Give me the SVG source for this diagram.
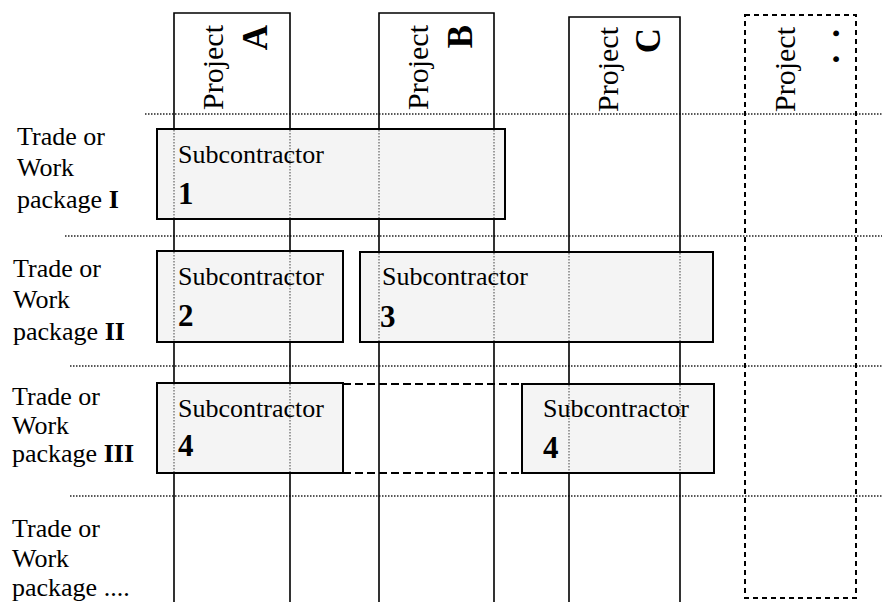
<svg xmlns="http://www.w3.org/2000/svg" width="882" height="602" viewBox="0 0 882 602">
<style>
text{font-family:"Liberation Serif","Times New Roman",serif;fill:#000}
.lbl{font-size:26px}
.hdr{font-size:30px}
.big{font-size:35px;font-weight:bold}
.num{font-size:31px;font-weight:bold}
.col{fill:none;stroke:#000;stroke-width:1.6}
.colD{fill:none;stroke:#000;stroke-width:2;stroke-dasharray:5 4}
.row{stroke:#222;stroke-width:1.3;stroke-dasharray:1.5 1.5}
.box{fill:#f4f4f4;stroke:#000;stroke-width:2}
.thru{stroke:#444;stroke-width:1;stroke-dasharray:1.5 1.5}
.conn{fill:none;stroke:#000;stroke-width:2;stroke-dasharray:8 4}
</style>
<rect width="882" height="602" fill="#fff"/>

<g id="row-lines">
<line class="row" x1="145" y1="114" x2="882" y2="114"/>
<line class="row" x1="65" y1="236" x2="882" y2="236"/>
<line class="row" x1="70" y1="366" x2="882" y2="366"/>
<line class="row" x1="70" y1="496" x2="882" y2="496"/>
</g>

<g id="projectA">
<path class="col" d="M174,602 V13 H290 V602"/>
<text class="hdr" transform="translate(223,110) rotate(-90)">Project</text>
<text class="big" text-anchor="end" transform="translate(267,25) rotate(-90)">A</text>
</g>
<g id="projectB">
<path class="col" d="M379,602 V13 H494 V602"/>
<text class="hdr" transform="translate(428,110) rotate(-90)">Project</text>
<text class="big" text-anchor="end" transform="translate(472,25) rotate(-90)">B</text>
</g>
<g id="projectC">
<path class="col" d="M569,602 V17 H680 V602"/>
<text class="hdr" transform="translate(618,112) rotate(-90)">Project</text>
<text class="big" text-anchor="end" transform="translate(660,28) rotate(-90)">C</text>
</g>
<g id="projectMore">
<rect class="colD" x="745" y="15" width="111" height="583"/>
<text class="hdr" transform="translate(795,112) rotate(-90)">Project</text>
<text class="big" text-anchor="end" letter-spacing="17" transform="translate(839,12) rotate(-90)">..</text>
</g>

<g id="label-I">
<text class="lbl" x="17" y="145">Trade or</text>
<text class="lbl" x="17" y="176">Work</text>
<text class="lbl" x="17" y="208">package <tspan font-weight="bold">I</tspan></text>
</g>
<g id="label-II">
<text class="lbl" x="13" y="277">Trade or</text>
<text class="lbl" x="13" y="308">Work</text>
<text class="lbl" x="13" y="340">package <tspan font-weight="bold">II</tspan></text>
</g>
<g id="label-III">
<text class="lbl" x="12" y="405">Trade or</text>
<text class="lbl" x="12" y="434">Work</text>
<text class="lbl" x="12" y="462">package <tspan font-weight="bold">III</tspan></text>
</g>
<g id="label-IV">
<text class="lbl" x="12" y="537">Trade or</text>
<text class="lbl" x="12" y="567">Work</text>
<text class="lbl" x="12" y="596">package ....</text>
</g>

<g id="connectors">
<line class="conn" x1="343" y1="384" x2="522" y2="384"/>
<line class="conn" x1="343" y1="473" x2="522" y2="473"/>
</g>

<g id="sub1">
<rect class="box" x="157" y="129" width="348" height="90"/>
<line class="thru" x1="174" y1="130" x2="174" y2="218"/>
<line class="thru" x1="290" y1="130" x2="290" y2="218"/>
<line class="thru" x1="379" y1="130" x2="379" y2="218"/>
<line class="thru" x1="494" y1="130" x2="494" y2="218"/>
<text class="lbl" x="178" y="163">Subcontractor</text>
<text class="num" x="178" y="204">1</text>
</g>
<g id="sub2">
<rect class="box" x="157" y="251" width="186" height="91"/>
<line class="thru" x1="174" y1="252" x2="174" y2="341"/>
<line class="thru" x1="290" y1="252" x2="290" y2="341"/>
<text class="lbl" x="178" y="285">Subcontractor</text>
<text class="num" x="178" y="326">2</text>
</g>
<g id="sub3">
<rect class="box" x="360" y="252" width="353" height="90"/>
<line class="thru" x1="379" y1="253" x2="379" y2="341"/>
<line class="thru" x1="494" y1="253" x2="494" y2="341"/>
<line class="thru" x1="569" y1="253" x2="569" y2="341"/>
<line class="thru" x1="680" y1="253" x2="680" y2="341"/>
<text class="lbl" x="382" y="285">Subcontractor</text>
<text class="num" x="380" y="327">3</text>
</g>
<g id="sub4a">
<rect class="box" x="157" y="383" width="186" height="90"/>
<line class="thru" x1="174" y1="384" x2="174" y2="472"/>
<line class="thru" x1="290" y1="384" x2="290" y2="472"/>
<text class="lbl" x="178" y="417">Subcontractor</text>
<text class="num" x="178" y="456">4</text>
</g>
<g id="sub4b">
<rect class="box" x="522" y="384" width="192" height="89"/>
<line class="thru" x1="569" y1="385" x2="569" y2="472"/>
<line class="thru" x1="680" y1="385" x2="680" y2="472"/>
<text class="lbl" x="543" y="417">Subcontractor</text>
<text class="num" x="543" y="458">4</text>
</g>
</svg>
